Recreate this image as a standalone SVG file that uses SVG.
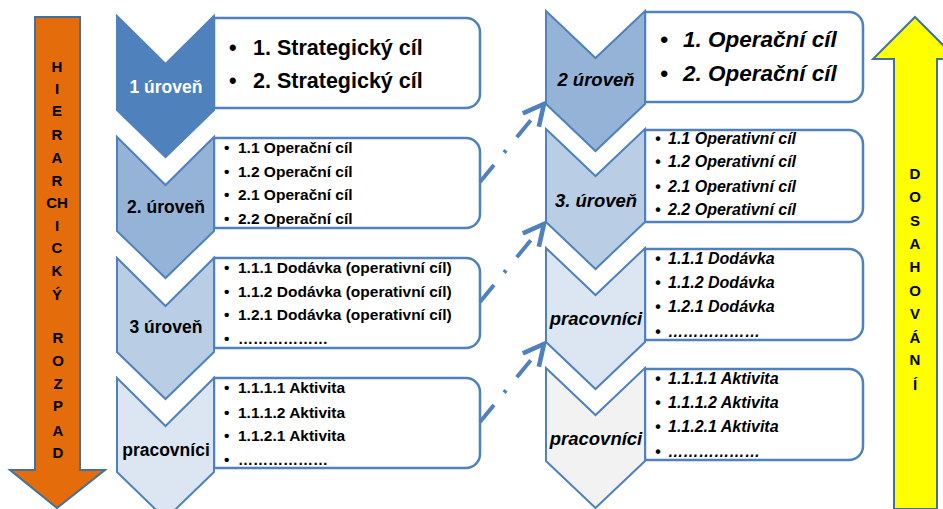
<svg xmlns="http://www.w3.org/2000/svg" width="943" height="509" viewBox="0 0 943 509">
  <defs>
    <marker id="vhead" markerUnits="userSpaceOnUse" markerWidth="30" markerHeight="30" viewBox="-22 -12 26 24" refX="0" refY="0" orient="auto">
      <path d="M -18 -9 L 0 0 L -18 9" fill="none" stroke="#4F81BD" stroke-width="4" stroke-linejoin="miter"/>
    </marker>
    <style>
      .arrow { stroke: #41719C; stroke-width: 2; }
      .vlet { font-family: "Liberation Sans", Arial, sans-serif; font-weight: bold; font-size: 15px; text-anchor: middle; fill: #000; }
      .chev { stroke: #4F81BD; stroke-width: 2; stroke-linejoin: miter; }
      .box { fill: #fff; stroke: #4F81BD; stroke-width: 2.5; }
      .lab { font-family: "Liberation Sans", Arial, sans-serif; font-weight: bold; font-size: 17.5px; text-anchor: middle; fill: #000; }
      .labi { font-family: "Liberation Sans", Arial, sans-serif; font-weight: bold; font-style: italic; font-size: 18.5px; text-anchor: middle; fill: #000; }
      .big { font-family: "Liberation Sans", Arial, sans-serif; font-weight: bold; font-size: 21.5px; fill: #000; }
      .bigi { font-family: "Liberation Sans", Arial, sans-serif; font-weight: bold; font-style: italic; font-size: 22.5px; fill: #000; }
      .sm { font-family: "Liberation Sans", Arial, sans-serif; font-weight: bold; font-size: 15.5px; fill: #000; }
      .smi { font-family: "Liberation Sans", Arial, sans-serif; font-weight: bold; font-style: italic; font-size: 16px; fill: #000; }
      .conn { fill: none; stroke: #4F81BD; stroke-width: 4; stroke-dasharray: 22 16 3 17; }
    </style>
  </defs>

  <!-- downward breakdown arrow -->
  <g id="hierarchy-arrow">
    <path class="arrow" d="M35,17 H80 V470 H105 L57,508 L10,470 H35 Z" fill="#E46C0A"/>
    <text class="vlet" x="57" y="72">H</text>
    <text class="vlet" x="57" y="94">I</text>
    <text class="vlet" x="57" y="116">E</text>
    <text class="vlet" x="57" y="140">R</text>
    <text class="vlet" x="57" y="163">A</text>
    <text class="vlet" x="57" y="186">R</text>
    <text class="vlet" x="57" y="208">CH</text>
    <text class="vlet" x="57" y="231">I</text>
    <text class="vlet" x="57" y="253">C</text>
    <text class="vlet" x="57" y="276">K</text>
    <text class="vlet" x="57" y="300">Ý</text>
    <text class="vlet" x="58" y="343">R</text>
    <text class="vlet" x="58" y="366">O</text>
    <text class="vlet" x="58" y="389">Z</text>
    <text class="vlet" x="58" y="411">P</text>
    <text class="vlet" x="58" y="436">A</text>
    <text class="vlet" x="58" y="458">D</text>
  </g>

  <!-- upward achievement arrow -->
  <g id="achievement-arrow">
    <path class="arrow" d="M894,509 V59 H873 L915,17 L957,59 H937 V509 Z" fill="#FFFF00"/>
    <text class="vlet" x="915" y="179">D</text>
    <text class="vlet" x="915" y="202">O</text>
    <text class="vlet" x="915" y="226">S</text>
    <text class="vlet" x="915" y="249">A</text>
    <text class="vlet" x="915" y="272">H</text>
    <text class="vlet" x="915" y="296">O</text>
    <text class="vlet" x="915" y="319">V</text>
    <text class="vlet" x="915" y="343">Á</text>
    <text class="vlet" x="915" y="365">N</text>
    <text class="vlet" x="915" y="390">Í</text>
  </g>

  <!-- left column -->
  <g id="left-1">
    <path class="box" d="M214,18 H466 A14,14 0 0 1 480,32 V94 A14,14 0 0 1 466,108 H214 Z"/>
    <path class="chev" fill="#4F81BD" d="M117,16 L165.5,64 L214,16 V110 L165.5,157 L117,110 Z"/>
    <text class="lab" x="166" y="93" fill="#fff" style="fill:#fff">1 úroveň</text>
    <text class="big" x="229" y="55">•</text>
    <text class="big" x="253" y="55">1. Strategický cíl</text>
    <text class="big" x="229" y="88">•</text>
    <text class="big" x="253" y="88">2. Strategický cíl</text>
  </g>

  <g id="left-2">
    <path class="box" d="M214,138 H466 A14,14 0 0 1 480,152 V214 A14,14 0 0 1 466,228 H214 Z"/>
    <path class="chev" fill="#95B3D7" d="M117,137 L165.5,185 L214,137 V231 L165.5,278 L117,231 Z"/>
    <text class="lab" x="166" y="213">2. úroveň</text>
    <text class="sm" x="224" y="153">•</text><text class="sm" x="238" y="153">1.1 Operační cíl</text>
    <text class="sm" x="224" y="177">•</text><text class="sm" x="238" y="177">1.2 Operační cíl</text>
    <text class="sm" x="224" y="200">•</text><text class="sm" x="238" y="200">2.1 Operační cíl</text>
    <text class="sm" x="224" y="224">•</text><text class="sm" x="238" y="224">2.2 Operační cíl</text>
  </g>

  <g id="left-3">
    <path class="box" d="M214,258 H466 A14,14 0 0 1 480,272 V334 A14,14 0 0 1 466,348 H214 Z"/>
    <path class="chev" fill="#B9CDE5" d="M117,258 L165.5,306 L214,258 V352 L165.5,399 L117,352 Z"/>
    <text class="lab" x="166" y="333">3 úroveň</text>
    <text class="sm" x="224" y="273">•</text><text class="sm" x="238" y="273">1.1.1 Dodávka (operativní cíl)</text>
    <text class="sm" x="224" y="297">•</text><text class="sm" x="238" y="297">1.1.2 Dodávka (operativní cíl)</text>
    <text class="sm" x="224" y="320">•</text><text class="sm" x="238" y="320">1.2.1 Dodávka (operativní cíl)</text>
    <text class="sm" x="224" y="344">•</text><text class="sm" x="238" y="344" textLength="90" lengthAdjust="spacingAndGlyphs">………………</text>
  </g>

  <g id="left-4">
    <path class="box" d="M214,378 H466 A14,14 0 0 1 480,392 V454 A14,14 0 0 1 466,468 H214 Z"/>
    <path class="chev" fill="#DCE6F2" d="M117,378 L165.5,426 L214,378 V472 L165.5,519 L117,472 Z"/>
    <text class="lab" x="166" y="456">pracovníci</text>
    <text class="sm" x="224" y="393">•</text><text class="sm" x="238" y="393">1.1.1.1 Aktivita</text>
    <text class="sm" x="224" y="418">•</text><text class="sm" x="238" y="418">1.1.1.2 Aktivita</text>
    <text class="sm" x="224" y="441">•</text><text class="sm" x="238" y="441">1.1.2.1 Aktivita</text>
    <text class="sm" x="224" y="465">•</text><text class="sm" x="238" y="465" textLength="90" lengthAdjust="spacingAndGlyphs">………………</text>
  </g>

  <!-- right column -->
  <g id="right-1">
    <path class="box" d="M645,12 H849 A14,14 0 0 1 863,26 V88 A14,14 0 0 1 849,102 H645 Z"/>
    <path class="chev" fill="#95B3D7" d="M546,11 L595.5,58 L645,11 V104 L595.5,151 L546,104 Z"/>
    <text class="labi" x="596" y="86">2 úroveň</text>
    <text class="bigi" x="660" y="47">•</text>
    <text class="bigi" x="683" y="47">1. Operační cíl</text>
    <text class="bigi" x="660" y="81">•</text>
    <text class="bigi" x="683" y="81">2. Operační cíl</text>
  </g>

  <g id="right-2">
    <path class="box" d="M645,130 H849 A14,14 0 0 1 863,144 V208 A14,14 0 0 1 849,222 H645 Z"/>
    <path class="chev" fill="#B9CDE5" d="M546,129 L595.5,176 L645,129 V222 L595.5,269 L546,222 Z"/>
    <text class="labi" x="596" y="207">3. úroveň</text>
    <text class="smi" x="655" y="144">•</text><text class="smi" x="668" y="144">1.1 Operativní cíl</text>
    <text class="smi" x="655" y="167">•</text><text class="smi" x="668" y="167">1.2 Operativní cíl</text>
    <text class="smi" x="655" y="192">•</text><text class="smi" x="668" y="192">2.1 Operativní cíl</text>
    <text class="smi" x="655" y="215">•</text><text class="smi" x="668" y="215">2.2 Operativní cíl</text>
  </g>

  <g id="right-3">
    <path class="box" d="M645,249 H849 A14,14 0 0 1 863,263 V326 A14,14 0 0 1 849,340 H645 Z"/>
    <path class="chev" fill="#DCE6F2" d="M546,248 L595.5,295 L645,248 V342 L595.5,389 L546,342 Z"/>
    <text class="labi" x="596" y="325">pracovníci</text>
    <text class="smi" x="655" y="264">•</text><text class="smi" x="668" y="264">1.1.1 Dodávka</text>
    <text class="smi" x="655" y="288">•</text><text class="smi" x="668" y="288">1.1.2 Dodávka</text>
    <text class="smi" x="655" y="312">•</text><text class="smi" x="668" y="312">1.2.1 Dodávka</text>
    <text class="smi" x="655" y="337">•</text><text class="smi" x="668" y="337" textLength="92" lengthAdjust="spacingAndGlyphs">………………</text>
  </g>

  <g id="right-4">
    <path class="box" d="M645,369 H849 A14,14 0 0 1 863,383 V446 A14,14 0 0 1 849,460 H645 Z"/>
    <path class="chev" fill="#F2F2F2" d="M546,368 L595.5,415 L645,368 V461 L595.5,508 L546,461 Z"/>
    <text class="labi" x="596" y="445">pracovníci</text>
    <text class="smi" x="655" y="384">•</text><text class="smi" x="668" y="384">1.1.1.1 Aktivita</text>
    <text class="smi" x="655" y="408">•</text><text class="smi" x="668" y="408">1.1.1.2 Aktivita</text>
    <text class="smi" x="655" y="432">•</text><text class="smi" x="668" y="432">1.1.2.1 Aktivita</text>
    <text class="smi" x="655" y="457">•</text><text class="smi" x="668" y="457" textLength="92" lengthAdjust="spacingAndGlyphs">………………</text>
  </g>

  <!-- dash-dot links between the two columns -->
  <g id="connectors">
    <path class="conn" d="M480,182 L544,104" marker-end="url(#vhead)"/>
    <path class="conn" d="M480,302 L544,224" marker-end="url(#vhead)"/>
    <path class="conn" d="M480,422 L544,344" marker-end="url(#vhead)"/>
  </g>
</svg>
